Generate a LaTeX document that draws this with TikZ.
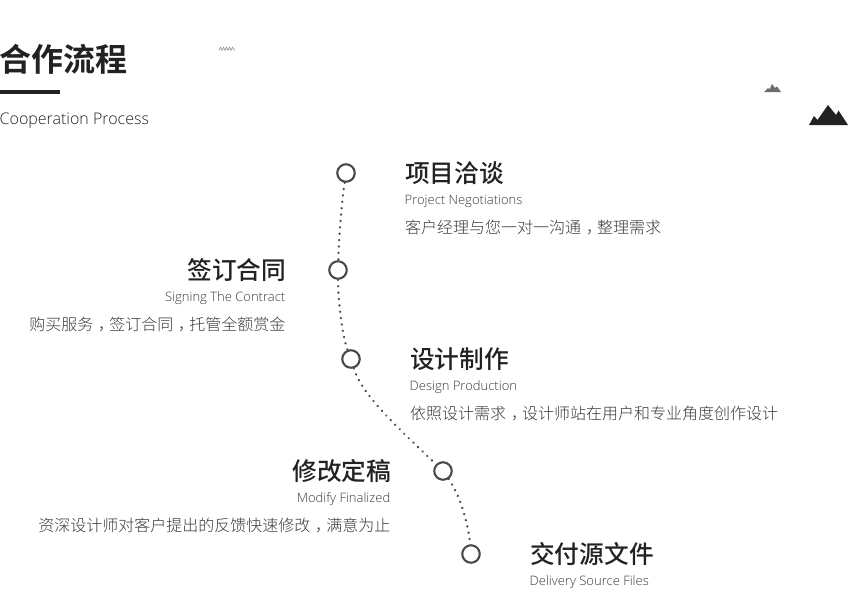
\documentclass[tikz,border=0pt]{standalone}
\usepackage{fontspec}
\setmainfont{Open Sans}
\newfontfamily\cjk{Noto Sans CJK SC Light}
\newfontfamily\cjkb{Noto Sans CJK SC Bold}
\newfontfamily\cjkm{Noto Sans CJK SC Medium}
\newfontfamily\lat{Open Sans Light}
\newcommand{\zcomma}{\kern.3em ，\kern-.3em }
\definecolor{ink}{HTML}{222222}
\definecolor{body}{HTML}{3A3A3A}
\definecolor{ring}{HTML}{4A4A4A}
\begin{document}
\begin{tikzpicture}[x=1pt,y=-1pt,
  stepring/.style={circle,draw=ring,line width=2.1pt,fill=white,minimum size=17.5pt,inner sep=0pt},
  titlel/.style={inner sep=0pt,anchor=west,text=ink,font=\cjkm\fontsize{24.7}{24.7}\selectfont},
  titler/.style={titlel,anchor=east},
  enl/.style={inner sep=0pt,anchor=west,text=body,font=\lat\fontsize{13}{14}\selectfont},
  enr/.style={enl,anchor=east},
  descl/.style={inner sep=0pt,anchor=west,text=body,font=\cjk\fontsize{16}{16}\selectfont},
  descr/.style={descl,anchor=east},
  dots/.style={draw=ring,line width=2.5pt,line cap=round,dash pattern=on 0.1pt off 6.3pt}]
\useasboundingbox (0,0) rectangle (848,611);
\node[inner sep=0pt,anchor=west,text=ink,font=\cjkb\fontsize{32}{32}\selectfont] (head) at (-1,59) {合作流程};
\fill[ink] (0,90) rectangle (60,94);
\node[inner sep=0pt,anchor=west,text=ink,font=\lat\fontsize{16}{18}\selectfont] (sub) at (-0.5,121) {Cooperation Process};
\draw[gray!80,line width=0.7pt,line join=round] (219,50.5) -- (220.5,47) -- (222,50.5) -- (223.5,47) -- (225,50.5) -- (226.5,47) -- (228,50.5) -- (229.5,47) -- (231,50.5) -- (232.5,47) -- (234.5,50.5);
\fill[gray!85!black] (764,92) -- (768,88) -- (769.5,89.5) -- (772,84) -- (775,88) -- (777,86.5) -- (781,92) -- cycle;
\fill[ink] (809,125) -- (814,116) -- (817.5,120) -- (828,105) -- (836,115) -- (838.5,110.5) -- (848,125) -- cycle;
\node[stepring] (n1) at (346,173) {};
\node[stepring] (n2) at (338,270) {};
\node[stepring] (n3) at (351,359) {};
\node[stepring] (n4) at (443,471) {};
\node[stepring] (n5) at (471,554) {};
\draw[dots] (n1) .. controls (342,200) and (339,235) .. (n2);
\draw[dots] (n2) .. controls (338,300) and (342,335) .. (n3);
\draw[dots] (n3) .. controls (362,395) and (395,425) .. (n4);
\draw[dots] (n4) .. controls (458,492) and (468,520) .. (n5);
\node[titlel] (t1) at (405,173) {项目洽谈};
\node[enl] (e1) at (404.5,201) {Project Negotiations};
\node[descl] (d1) at (405,227.5) {客户经理与您一对一沟通\zcomma 整理需求};
\node[titler] (t2) at (286.3,270) {签订合同};
\node[enr] (e2) at (285.5,298) {Signing The Contract};
\node[descr] (d2) at (285.5,324.5) {购买服务\zcomma 签订合同\zcomma 托管全额赏金};
\node[titlel] (t3) at (410,359) {设计制作};
\node[enl] (e3) at (409.5,387) {Design Production};
\node[descl] (d3) at (410,413.5) {依照设计需求\zcomma 设计师站在用户和专业角度创作设计};
\node[titler] (t4) at (391.3,471) {修改定稿};
\node[enr] (e4) at (390.5,499) {Modify Finalized};
\node[descr] (d4) at (390.5,525.5) {资深设计师对客户提出的反馈快速修改\zcomma 满意为止};
\node[titlel] (t5) at (530,554) {交付源文件};
\node[enl] (e5) at (529.5,582) {Delivery Source Files};
\end{tikzpicture}
\end{document}
